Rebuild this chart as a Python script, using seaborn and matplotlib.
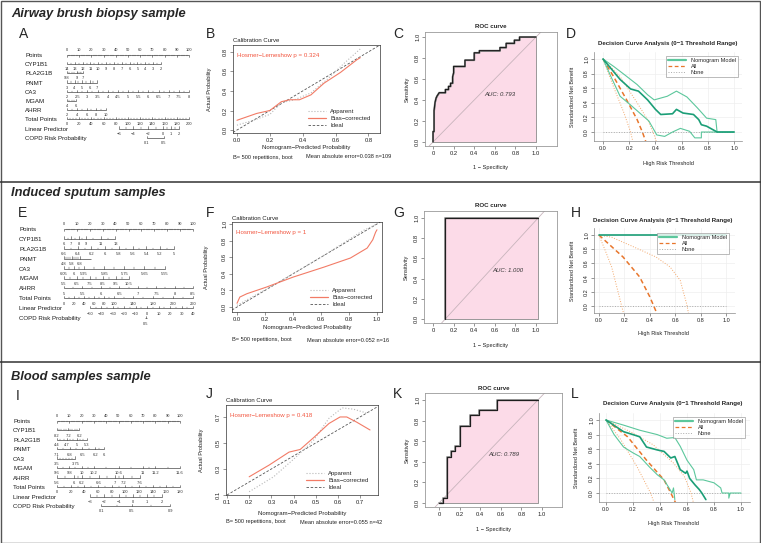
import numpy as np
import pandas as pd
import matplotlib
matplotlib.use("Agg")
import matplotlib.pyplot as plt
from matplotlib.lines import Line2D
from matplotlib.patches import Rectangle
import seaborn as sns

sns.set_style("white")
plt.rcParams["font.family"] = ["Liberation Sans", "DejaVu Sans"]

# ----------------------------------------------------------------- data
NOMO_NAMES = ["Points", "CYP1B1", "PLA2G1B", "PNMT", "CA3", "MGAM", "AHRR",
              "Total Points", "Linear Predictor", "COPD Risk Probability"]

# --- A (airway brush) nomogram: tick labels and their positions on the 0-100 points scale
A_points_lab = [str(v) for v in range(0, 101, 10)]
A_cyp1b1_lab = [str(v) for v in range(14, 1, -1)]
A_pla2g1b_lab = ["9.8", "9", "7"]
A_pnmt_lab = ["3", "4", "5", "6", "7"]
A_ca3_lab = ["2", "2.5", "3", "3.5", "4", "4.5", "5", "5.5", "6", "6.5", "7", "7.5", "8"]
A_mgam_lab = ["4", "6"]
A_ahrr_lab = ["2", "4", "6", "8", "10"]
A_total_lab = [str(v) for v in range(0, 201, 20)]
A_lp_lab = ["\u22126", "\u22124", "\u22122", "0", "1", "2"]
A_lp_pos = [42.6, 53.8, 66.7, 79.0, 85.2, 91.8]
A_copd_lab = ["0.1", "0.5"]
A_copd_pos = [65.3, 79.5]

# --- E (induced sputum) nomogram
E_points_lab = A_points_lab
E_cyp1b1_lab = ["6", "7", "8", "9", "11", "13"]
E_cyp1b1_val = [6, 7, 8, 9, 11, 13]
E_pla2g1b_lab = ["6.6", "6.4", "6.2", "6", "5.8", "5.6", "5.4", "5.2", "5"]
E_pnmt_lab = ["4.8", "5.8", "6.8"]
E_pnmt_pos = [0, 6, 12.4]
E_ca3_lab = ["6.05", "6", "5.95", "5.85", "5.75", "5.65", "5.55"]
E_ca3_val = [6.05, 6.0, 5.95, 5.85, 5.75, 5.65, 5.55]
E_mgam_lab = ["5.5", "6.5", "7.5", "8.5", "9.5", "10.5"]
E_ahrr_lab = ["5", "5.5", "6", "6.5", "7", "7.5", "8", "8.5"]
E_total_val = [0, 20, 40, 60, 80, 100, 140, 180, 220, 260]
E_lp_lab = ["\u221250", "\u221240", "\u221230", "\u221220", "\u221210", "0", "10", "20", "30", "40"]
E_copd_lab = ["0.5"]
E_copd_pos = [63.6]

# --- I (blood) nomogram
I_points_lab = A_points_lab
I_cyp1b1_lab = ["8.2", "7.2", "6.2"]
I_pla2g1b_lab = ["4.4", "4.7", "5", "5.3"]
I_pnmt_lab = ["7.1", "6.8", "6.5", "6.2", "6"]
I_pnmt_val = [7.1, 6.8, 6.5, 6.2, 6.0]
I_ca3_lab = ["3.5", "3.75"]
I_mgam_lab = ["9.6", "9.8", "10", "10.2", "10.6", "11", "11.2", "11.6"]
I_mgam_val = [9.6, 9.8, 10.0, 10.2, 10.6, 11.0, 11.2, 11.6]
I_ahrr_lab = ["5.6", "6", "6.2", "6.6", "7", "7.2", "7.6"]
I_ahrr_val = [5.6, 6.0, 6.2, 6.6, 7.0, 7.2, 7.6]
I_total_val = list(range(0, 181, 20))
I_lp_lab = ["\u22123", "\u22122", "\u22121", "0", "1", "2"]
I_copd_lab = ["0.1", "0.5", "0.9"]
I_copd_pos = [36, 61, 92]

# --- calibration curves
B_app_x = [0.0, 0.1, 0.2, 0.27, 0.35, 0.45, 0.55, 0.65, 0.75]
B_app_y = [0.05, 0.10, 0.16, 0.28, 0.31, 0.38, 0.52, 0.68, 0.83]
B_bc_x = [0.0, 0.12, 0.20, 0.27, 0.32, 0.38, 0.45, 0.53, 0.63, 0.73, 0.75]
B_bc_y = [0.10, 0.17, 0.20, 0.29, 0.31, 0.31, 0.36, 0.48, 0.59, 0.72, 0.74]
F_app_x = [0.0, 0.3, 0.6, 0.9, 1.0]
F_app_y = [0.02, 0.30, 0.60, 0.92, 1.0]
F_bc_x = [0.0, 0.02, 0.07, 0.21, 0.40, 0.62, 0.81, 0.93, 0.97, 0.99, 1.0]
F_bc_y = [0.045, 0.12, 0.16, 0.24, 0.36, 0.48, 0.59, 0.71, 0.81, 0.90, 0.93]
J_app_x = [0.20, 0.31, 0.41, 0.49, 0.56, 0.62, 0.67, 0.73, 0.745]
J_app_y = [0.125, 0.24, 0.39, 0.52, 0.69, 0.77, 0.76, 0.73, 0.74]
J_bc_x = [0.20, 0.29, 0.38, 0.43, 0.49, 0.56, 0.61, 0.64, 0.685, 0.745]
J_bc_y = [0.24, 0.33, 0.43, 0.45, 0.54, 0.65, 0.70, 0.70, 0.66, 0.60]

# --- ROC curves
C_fpr = [0, 0, 0.01, 0.01, 0.02, 0.03, 0.04, 0.06, 0.12, 0.12, 0.15, 0.15, 0.17, 0.17, 0.19, 0.19,
         0.20, 0.20, 0.31, 0.31, 0.40, 0.40, 0.45, 0.45, 0.65, 0.65, 0.71, 0.71, 0.79, 0.79, 0.84, 0.84, 1.0]
C_tpr = [0, 0.1, 0.1, 0.3, 0.38, 0.42, 0.44, 0.47, 0.47, 0.50, 0.50, 0.53, 0.53, 0.56, 0.56, 0.62,
         0.66, 0.72, 0.72, 0.78, 0.78, 0.85, 0.85, 0.87, 0.87, 0.90, 0.90, 0.94, 0.94, 0.97, 0.97, 1.0, 1.0]
G_fpr = [0.12, 0.12, 1.02]
G_tpr = [0.0, 1.0, 1.0]
K_fpr = [0, 0.04, 0.04, 0.08, 0.08, 0.12, 0.12, 0.16, 0.16, 0.20, 0.20, 0.30, 0.30, 0.39, 0.39, 0.56, 0.56, 0.96]
K_tpr = [0, 0, 0.05, 0.05, 0.45, 0.45, 0.50, 0.50, 0.55, 0.55, 0.75, 0.75, 0.85, 0.85, 0.90, 0.90, 1.0, 1.0]
AUCS = ["AUC: 0.793", "AUC: 1.000", "AUC: 0.789"]

# --- decision curves
D_main_x = [0, 0.07, 0.13, 0.21, 0.27, 0.34, 0.40, 0.44, 0.53, 0.56, 0.61, 0.69, 0.73, 0.75, 0.79, 0.84, 0.87, 1.0]
D_main_y = [1, 0.85, 0.72, 0.59, 0.56, 0.44, 0.31, 0.24, 0.25, 0.31, 0.26, 0.24, 0.17, 0.10, 0.08, 0.03, 0.0, 0.0]
D_up_x = [0, 0.08, 0.16, 0.26, 0.34, 0.39, 0.49, 0.56, 0.64, 0.72, 0.79, 0.86, 0.87]
D_up_y = [1, 0.90, 0.79, 0.65, 0.51, 0.44, 0.49, 0.56, 0.48, 0.33, 0.19, 0.17, 0.0]
D_lo_x = [0, 0.06, 0.13, 0.21, 0.28, 0.35, 0.41, 0.47, 0.53, 0.59, 0.66, 0.70, 0.75, 0.75, 1.0]
D_lo_y = [1, 0.76, 0.49, 0.37, 0.26, 0.15, -0.04, -0.06, 0.0, 0.05, 0.01, -0.08, -0.08, 0.0, 0.0]
D_all_x = [0, 0.08, 0.18, 0.26, 0.30, 0.33]
D_all_y = [1, 0.76, 0.44, 0.17, 0.0, -0.15]
D_allhi_x = [0, 0.13, 0.26, 0.34, 0.39, 0.41]
D_allhi_y = [1, 0.76, 0.40, 0.17, -0.04, -0.15]
D_alllo_x = [0, 0.08, 0.16, 0.21, 0.23]
D_alllo_y = [1, 0.62, 0.26, 0.0, -0.15]

H_main_x = [0, 1.0]
H_main_y = [1.0, 1.0]
H_all_x = [0, 0.19, 0.32, 0.40, 0.45, 0.47]
H_all_y = [1, 0.69, 0.41, 0.13, -0.08, -0.15]
H_allhi_x = [0, 0.10, 0.24, 0.45, 0.56, 0.64, 0.69, 0.71]
H_allhi_y = [1, 0.97, 0.86, 0.69, 0.55, 0.36, 0.03, -0.15]
H_alllo_x = [0, 0.05, 0.10, 0.16, 0.19, 0.20]
H_alllo_y = [1, 0.78, 0.55, 0.13, -0.08, -0.15]

L_main_x = [0, 0.13, 0.20, 0.25, 0.30, 0.38, 0.43, 0.48, 0.51, 0.53, 0.55, 0.59, 0.60, 0.62, 0.66, 0.69, 0.71, 0.74]
L_main_y = [1, 0.84, 0.80, 0.77, 0.63, 0.59, 0.57, 0.48, 0.50, 0.41, 0.32, 0.27, 0.30, 0.20, 0.11, 0.05, 0.0, -0.09]
L_up_x = [0, 0.13, 0.25, 0.38, 0.45, 0.51, 0.55, 0.60, 0.65, 0.67, 0.72, 0.80, 0.85, 0.86, 0.91, 0.91, 0.92, 1.0]
L_up_y = [1, 0.93, 0.86, 0.80, 0.75, 0.76, 0.64, 0.45, 0.32, 0.18, 0.18, 0.14, 0.07, 0.0, 0.0, -0.07, 0.0, 0.0]
L_lo_x = [0, 0.06, 0.13, 0.20, 0.25, 0.32, 0.38, 0.43, 0.49, 0.50, 0.51]
L_lo_y = [1, 0.80, 0.63, 0.55, 0.50, 0.36, 0.25, 0.18, 0.0, 0.07, -0.09]
L_all_x = [0, 0.16, 0.30, 0.43, 0.48, 0.52]
L_all_y = [1, 0.77, 0.45, 0.18, 0.0, -0.15]
L_allhi_x = [0, 0.18, 0.35, 0.50, 0.58, 0.63, 0.65]
L_allhi_y = [1, 0.84, 0.66, 0.41, 0.23, 0.0, -0.15]
L_alllo_x = [0, 0.11, 0.23, 0.33, 0.36]
L_alllo_y = [1, 0.73, 0.36, 0.0, -0.15]
NONE_x = [0, 1.0]
NONE_y = [0, 0]

# ----------------------------------------------------------------- helpers
W, H = 761, 543
fig = plt.figure(figsize=(W / 100, H / 100), dpi=100)


def pax(x0, y0, x1, y1):
    return fig.add_axes([x0 / W, 1 - y1 / H, (x1 - x0) / W, (y1 - y0) / H])


def ftext(x, y, s, **kw):
    kw.setdefault("ha", "left")
    kw.setdefault("va", "center")
    fig.text(x / W, 1 - y / H, s, **kw)


def row(labs, pos, nmin=2, span=None):
    pos = list(pos)
    return (labs, pos, span if span is not None else (min(pos), max(pos)), nmin)


def nomogram(box, p0, p100, row0, drow, name_x, rows):
    x0, y0, x1, y1 = box
    ax = pax(*box)
    s = 100.0 / (p100 - p0)
    ax.set_xlim((x0 - p0) * s, 100 + (x1 - p100) * s)
    ax.set_ylim((y1 - row0) / drow, (y0 - row0) / drow)
    ax.axis("off")
    nx = (name_x - p0) * s
    col = "#333333"
    for i, (name, (labs, pos, span, nmin)) in enumerate(zip(NOMO_NAMES, rows)):
        ax.text(nx, i + 0.05, name, fontsize=4.4, ha="left", va="center", color="#1a1a1a")
        ax.plot(span, [i, i], color=col, lw=0.45, solid_capstyle="butt")
        d = 1 if i == 0 else -1
        for p, l in zip(pos, labs):
            ax.plot([p, p], [i, i + 0.25 * d], color=col, lw=0.4)
            ax.text(p, i - 0.55 * d, l, fontsize=2.9, ha="center", va="center", color="#333333")
        for a, b in zip(pos[:-1], pos[1:]):
            for m in np.linspace(a, b, nmin + 1)[1:-1]:
                ax.plot([m, m], [i, i + 0.13 * d], color=col, lw=0.3)
    return ax


def r_ticks(ax, xt, xl, yt, yl, fs=4.2):
    ax.set_xticks(xt)
    ax.set_xticklabels(xl, fontsize=fs)
    ax.set_yticks(yt)
    ax.set_yticklabels(yl, fontsize=fs, rotation=90, va="center")
    ax.tick_params(axis="both", length=2, width=0.4, pad=1.5, color="#444444",
                   labelcolor="#222222", bottom=True, left=True, direction="out")


RED = "#f27b66"
APP = "#b8b8b8"


def calib(box, xlim, ylim, xt, yt, app_x, app_y, bc_x, bc_y, hl, title_y, xtl_y,
          mae_x, bottom_y, ylab_x, mae):
    ax = pax(*box)
    ax.set_xlim(*xlim)
    ax.set_ylim(*ylim)
    ax.axline((0, 0), (1, 1), color="#555555", lw=0.6, ls=(0, (3, 2)))
    sns.lineplot(x=app_x, y=app_y, ax=ax, color=APP, lw=0.8, ls=":", estimator=None, sort=False)
    sns.lineplot(x=bc_x, y=bc_y, ax=ax, color=RED, lw=0.8, estimator=None, sort=False)
    for sp in ax.spines.values():
        sp.set_visible(True)
        sp.set_color("#333333")
        sp.set_linewidth(0.5)
    r_ticks(ax, xt, [f"{v:.1f}" for v in xt], yt, [f"{v:.1f}" for v in yt])
    ax.text(0.025, 0.885, hl, transform=ax.transAxes, color="#f2553f", fontsize=4.4,
            ha="left", va="center")
    h = [Line2D([], [], color=APP, ls=":", lw=0.8),
         Line2D([], [], color=RED, lw=0.9),
         Line2D([], [], color="#555555", ls=(0, (3, 2)), lw=0.6)]
    ax.legend(h, ["Apparent", "Bias\u2212corrected", "Ideal"], loc="lower right", frameon=False,
              fontsize=4.3, handlelength=3.0, labelspacing=0.35, borderaxespad=0.4,
              bbox_to_anchor=(0.97, 0.0))
    x0, y0, x1, y1 = box
    ftext(x0, title_y, "Calibration Curve", fontsize=4.3, color="#222222")
    ftext((x0 + x1) / 2, xtl_y, "Nomogram\u2212Predicted Probability", fontsize=4.3,
          ha="center", color="#222222")
    ftext(x0, bottom_y, "B= 500 repetitions, boot", fontsize=4.1, color="#222222")
    ftext(mae_x, bottom_y, mae, fontsize=4.1, color="#222222")
    ftext(ylab_x, (y0 + y1) / 2, "Actual Probability", fontsize=4.1, rotation=90,
          ha="center", color="#222222")
    return ax


def roc(box, xlim, ylim, fpr, tpr, diag, auc, auc_xy, xl_y):
    ax = pax(*box)
    ax.set_xlim(*xlim)
    ax.set_ylim(*ylim)
    ax.fill_between(fpr, tpr, 0, facecolor="#fcdbe8", edgecolor="#8a8a8a", lw=0.6)
    ax.axline(diag[0], diag[1], color="#c8b4bc", lw=0.6)
    sns.lineplot(x=fpr, y=tpr, ax=ax, color="#a0a0a0", lw=1.4, estimator=None, sort=False)
    sns.lineplot(x=fpr, y=tpr, ax=ax, color="#1e1e1e", lw=0.9, estimator=None, sort=False)
    for sp in ax.spines.values():
        sp.set_visible(True)
        sp.set_color("#9a9a9a")
        sp.set_linewidth(0.6)
    xt = [0, 0.2, 0.4, 0.6, 0.8, 1.0]
    r_ticks(ax, xt, ["0", "0.2", "0.4", "0.6", "0.8", "1.0"], xt, [f"{v:.1f}" for v in xt])
    ax.text(auc_xy[0], auc_xy[1], auc, fontsize=4.3, style="italic", ha="left", va="center",
            color="#333333")
    x0, y0, x1, y1 = box
    ftext((x0 + x1) / 2, y0 - 5, "ROC curve", fontsize=4.4, weight="bold", ha="center")
    ftext((x0 + x1) / 2, xl_y, "1 \u2212 Specificity", fontsize=4.1, ha="center", color="#222222")
    ftext(x0 - 18, (y0 + y1) / 2, "Sensitivity", fontsize=4.1, rotation=90, ha="center",
          color="#222222")
    return ax


GREEN = "#1b9e77"
GREEN_L = "#5cc79c"
ORANGE = "#e8762c"
ORANGE_L = "#f3a86c"


def dca(box, xlim, ylim, curves, title_xy, xl_xy, yl_x, leg_anchor):
    ax = pax(*box)
    ax.set_xlim(*xlim)
    ax.set_ylim(*ylim)
    t = [0, 0.2, 0.4, 0.6, 0.8, 1.0]
    for v in t:
        ax.axvline(v, color="#eeeeee", lw=0.5, zorder=0)
        ax.axhline(v, color="#eeeeee", lw=0.5, zorder=0)
    (mx, my), (ux, uy), (lx, ly), (ax_, ay), (ahx, ahy), (alx, aly) = curves
    sns.lineplot(x=NONE_x, y=NONE_y, ax=ax, color="#aaaaaa", lw=0.7, ls=":", estimator=None, sort=False)
    for xx, yy in [(ahx, ahy), (alx, aly)]:
        if xx is not None:
            sns.lineplot(x=xx, y=yy, ax=ax, color=ORANGE_L, lw=0.7, ls=":", estimator=None, sort=False)
    sns.lineplot(x=ax_, y=ay, ax=ax, color=ORANGE, lw=1.1, ls=(0, (3, 2)), estimator=None, sort=False)
    for xx, yy in [(ux, uy), (lx, ly)]:
        if xx is not None:
            sns.lineplot(x=xx, y=yy, ax=ax, color=GREEN_L, lw=0.8, estimator=None, sort=False)
    sns.lineplot(x=mx, y=my, ax=ax, color=GREEN, lw=1.2, estimator=None, sort=False)
    for k in ["top", "right"]:
        ax.spines[k].set_visible(False)
    for k in ["left", "bottom"]:
        ax.spines[k].set_color("#888888")
        ax.spines[k].set_linewidth(0.5)
    r_ticks(ax, t, [f"{v:.1f}" for v in t], t, [f"{v:.1f}" for v in t], fs=4.0)
    h = [Line2D([], [], color=GREEN_L, lw=1.6),
         Line2D([], [], color=ORANGE, lw=0.9, ls=(0, (3, 2))),
         Line2D([], [], color="#aaaaaa", lw=0.7, ls=":")]
    lg = ax.legend(h, ["Nomogram Model", "All", "None"], loc="upper right",
                   bbox_to_anchor=leg_anchor, fontsize=4.1, frameon=True, fancybox=False,
                   handlelength=3.2, labelspacing=0.15, borderpad=0.4, borderaxespad=0)
    lg.get_frame().set_edgecolor("#888888")
    lg.get_frame().set_linewidth(0.5)
    ftext(title_xy[0], title_xy[1], "Decision Curve Analysis (0\u22121 Threshold Range)",
          fontsize=4.4, weight="bold", ha="center")
    ftext(xl_xy[0], xl_xy[1], "High Risk Threshold", fontsize=4.1, ha="center", color="#222222")
    ftext(yl_x, (box[1] + box[3]) / 2, "Standardized Net Benefit", fontsize=3.9, rotation=90,
          ha="center", color="#222222")
    return ax


# ----------------------------------------------------------------- frame and section titles
fig.add_artist(Rectangle((0.5 / W, 0.5 / H), (W - 1.5) / W, (H - 1.5) / H, transform=fig.transFigure,
                         fill=False, edgecolor="#555555", lw=1.0))
for yy in [182, 362]:
    fig.add_artist(Line2D([0, 1], [1 - yy / H, 1 - yy / H], transform=fig.transFigure,
                          color="#333333", lw=1.1))

ftext(11, 14, "Airway brush biopsy sample", fontsize=9.3, weight="bold", style="italic")
ftext(11, 193, "Induced sputum samples", fontsize=9.3, weight="bold", style="italic")
ftext(11, 377, "Blood samples sample", fontsize=9.3, weight="bold", style="italic")

for lab, x, y in [("A", 19, 34), ("B", 206, 34), ("C", 393, 34), ("D", 566, 34),
                  ("E", 18, 213), ("F", 206, 213), ("G", 393, 213), ("H", 571, 213),
                  ("I", 16, 396), ("J", 206, 394), ("K", 393, 394), ("L", 571, 394)]:
    ftext(x, y, lab, fontsize=10)

# ----------------------------------------------------------------- nomograms
A_rows = [
    row(A_points_lab, np.linspace(0, 100, 11), 5),
    row(A_cyp1b1_lab, np.linspace(0, 77, 13), 2),
    row(A_pla2g1b_lab, [0, 8, 13], 4),
    row(A_pnmt_lab, np.linspace(0, 24.6, 5), 2),
    row(A_ca3_lab, np.linspace(0, 100, 13), 2),
    row(A_mgam_lab, [0, 7.4], 4),
    row(A_ahrr_lab, np.linspace(0, 32, 5), 2),
    row(A_total_lab, np.linspace(0, 100, 11), 4),
    row(A_lp_lab, A_lp_pos, 2),
    row(A_copd_lab, A_copd_pos, 1),
]
nomogram((22, 44, 200, 146), 67, 189, 55, 9.2, 25, A_rows)

E_rows = [
    row(E_points_lab, np.linspace(0, 100, 11), 5),
    row(E_cyp1b1_lab, [(v - 6) * 5.7 for v in E_cyp1b1_val], 2),
    row(E_pla2g1b_lab, np.linspace(0, 85, 9), 2),
    row(E_pnmt_lab, E_pnmt_pos, 4, span=(0, 21)),
    row(E_ca3_lab, [(6.05 - v) * 156 for v in E_ca3_val], 2),
    row(E_mgam_lab, np.linspace(0, 50, 6), 2),
    row(E_ahrr_lab, np.linspace(0, 100, 8), 2),
    row([str(v) for v in E_total_val], [v / 2.6 for v in E_total_val], 2),
    row(E_lp_lab, np.linspace(20, 100, 10), 2),
    row(E_copd_lab, E_copd_pos, 1, span=(62.5, 64.7)),
]
nomogram((16, 219, 198, 326), 64, 193, 229, 9.9, 19, E_rows)

I_rows = [
    row(I_points_lab, np.linspace(0, 100, 11), 5),
    row(I_cyp1b1_lab, [0, 9, 18], 5),
    row(I_pla2g1b_lab, np.linspace(0, 24, 4), 3),
    row(I_pnmt_lab, [(7.1 - v) * 34.5 for v in I_pnmt_val], 2),
    row(I_ca3_lab, [0, 15], 6),
    row(I_mgam_lab, [(v - 9.6) * 50 for v in I_mgam_val], 2),
    row(I_ahrr_lab, [(v - 5.6) * 33.75 for v in I_ahrr_val], 2),
    row([str(v) for v in I_total_val], [v / 1.8 for v in I_total_val], 2),
    row(I_lp_lab, np.linspace(27, 85, 6), 2),
    row(I_copd_lab, I_copd_pos, 2),
]
nomogram((10, 411, 186, 514), 57, 180, 421, 9.45, 13, I_rows)

# ----------------------------------------------------------------- calibration
t8 = [0.0, 0.2, 0.4, 0.6, 0.8]
t10 = [0.0, 0.2, 0.4, 0.6, 0.8, 1.0]
calib((233, 45, 380, 133), (-0.024, 0.87), (-0.03, 0.87), t8, t8, B_app_x, B_app_y, B_bc_x, B_bc_y,
      "Hosmer\u2212Lemeshow p = 0.324", 40, 148, 306, 157, 209,
      "Mean absolute error=0.038 n=109")
calib((232, 222, 382, 312), (-0.036, 1.036), (-0.06, 1.024), t10, t10, F_app_x, F_app_y, F_bc_x, F_bc_y,
      "Hosmer\u2212Lemeshow p = 1", 218, 328, 307, 340, 207,
      "Mean absolute error=0.052 n=16")
t7 = [0.1, 0.2, 0.3, 0.4, 0.5, 0.6, 0.7]
calib((226, 405, 378, 495), (0.0955, 0.781), (0.1, 0.792), t7, [0.1, 0.3, 0.5, 0.7],
      J_app_x, J_app_y, J_bc_x, J_bc_y, "Hosmer\u2212Lemeshow p = 0.418", 401, 514, 300, 522, 202,
      "Mean absolute error=0.055 n=42")

# ----------------------------------------------------------------- ROC
roc((425, 32, 557, 146), (-0.078, 1.204), (-0.038, 1.048), C_fpr, C_tpr, ((0, 0), (1, 1)),
    AUCS[0], (0.50, 0.45), 167)
roc((424, 211, 557, 323), (-0.087, 1.204), (-0.04, 1.07), G_fpr, G_tpr, ((0.12, 0), (1.02, 1.0)),
    AUCS[1], (0.58, 0.485), 345)
roc((425, 393, 562, 507), (-0.136, 1.194), (-0.039, 1.068), K_fpr, K_tpr, ((0, 0), (0.96, 1.0)),
    AUCS[2], (0.48, 0.47), 530)

# ----------------------------------------------------------------- decision curves
dca((594, 52, 742, 141), (-0.069, 1.06), (-0.123, 1.096),
    [(D_main_x, D_main_y), (D_up_x, D_up_y), (D_lo_x, D_lo_y),
     (D_all_x, D_all_y), (D_allhi_x, D_allhi_y), (D_alllo_x, D_alllo_y)],
    (668, 43), (668, 163), 573, (0.973, 0.955))
dca((594, 228, 735, 313), (-0.039, 1.071), (-0.1, 1.1),
    [(H_main_x, H_main_y), (None, None), (None, None),
     (H_all_x, H_all_y), (H_allhi_x, H_allhi_y), (H_alllo_x, H_alllo_y)],
    (663, 220), (663, 334), 573, (0.957, 0.94))
dca((599, 413, 750, 502), (-0.052, 1.067), (-0.123, 1.096),
    [(L_main_x, L_main_y), (L_up_x, L_up_y), (L_lo_x, L_lo_y),
     (L_all_x, L_all_y), (L_allhi_x, L_allhi_y), (L_alllo_x, L_alllo_y)],
    (673, 403), (673, 524), 577, (0.967, 0.955))

fig.savefig("out.png", dpi=100)
